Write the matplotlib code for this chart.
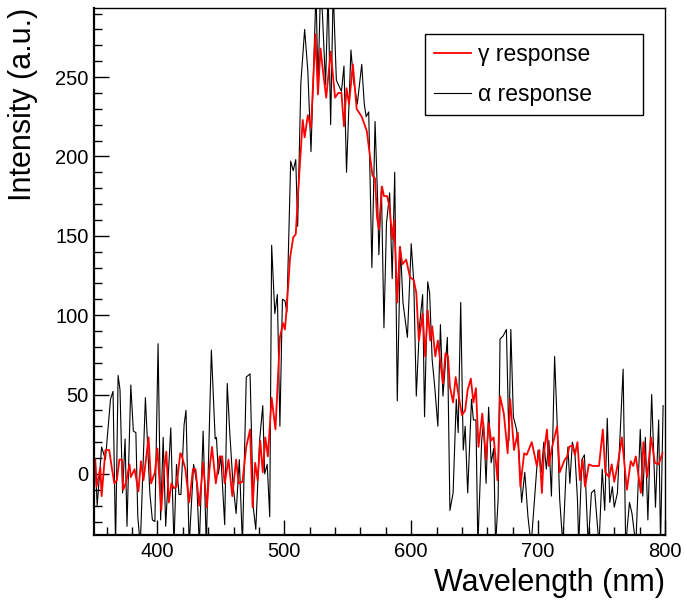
"""
plot.py  -  gamma vs alpha emission spectra (ROOT-style frame).
"""

import matplotlib
matplotlib.use("Agg")
import matplotlib.pyplot as plt
from matplotlib.ticker import MultipleLocator

plt.rcParams["font.family"] = ["Liberation Sans", "DejaVu Sans"]

# ── Data ──────────────────────────────────────────────────────────────────────
gamma_nm = [
    351, 352, 355, 356, 359, 362, 364, 366, 368, 370, 372, 373, 375, 378, 379,
    382, 385, 387, 389, 393, 395, 398, 400, 403, 405, 407, 409, 411, 413, 415,
    418, 419, 422, 425, 428, 430, 433, 436, 439, 441, 443, 446, 449, 451, 453,
    456, 459, 462, 464, 467, 470, 473, 475, 477, 479, 481, 483, 485, 487, 490,
    493, 496.5, 499, 500.5, 502, 504.5, 507, 509, 511, 514.5, 516, 518.5, 521,
    524.5, 526.5, 528.5, 531, 533, 536.5, 540, 542.5, 545, 547, 549, 551, 554,
    557, 561, 565, 567.5, 569.5, 571.5, 573, 574.5, 577, 578.5, 581, 583, 585,
    586.5, 589, 591, 593, 596, 599, 602, 604, 606, 609, 611, 613, 615, 616.5,
    619, 621, 623, 625, 627, 629, 630.5, 633, 635, 637, 640, 642.5, 644.5, 647,
    649, 651, 653, 656, 659, 661, 663, 665, 668, 670, 673, 676, 678, 681, 684,
    686, 689, 691, 695, 699, 701, 703, 704.5, 707, 708.5, 711, 715, 717, 721,
    723, 724.5, 727, 729, 731, 733, 735, 737, 740, 743, 748, 751, 753, 756, 758,
    760, 763, 766, 770, 773, 775, 777, 781, 783, 786, 789, 792, 795, 798,
]
gamma_val = [
    9, -8, 4, -14, 15, 15, 4, -6, -4, 9, 9, -10, -6, 6, -2,
    3, -11, 8, -4, 23, -6, 1, 16, -23, 1, 14, -18, -6, -9, -8,
    13, 12, 3, -18, 3, 3, -20, 7, -21, 3, 17, -6, 11, 11, -6,
    9, -14, 9, -6, -5, 17, 28, -21, 7, -4, 21, 1, 23, 11, 48,
    28, 86, 95, 91, 106, 136, 149, 151, 179, 223, 212, 226, 218,
    277, 239, 268, 250, 237, 266, 237, 240, 240, 219, 243, 233, 258,
    230, 225, 216, 200, 188, 186, 162, 154, 181, 175, 175, 168, 148,
    160, 108, 143, 132, 135, 124, 122, 114, 84, 101, 74, 103, 84, 93,
    74, 84, 70, 57, 76, 74, 55, 45, 61, 51, 37, 40, 53, 60,
    45, 54, 17, 38, 9, 32, 21, 23, -4, 49, 38, 13, 47, 15, 26,
    -8, 13, 12, 20, 5, 15, -12, 13, 28, 5, 17, 30, 1, 9,
    11, 17, 18, 12, 20, -4, 9, -8, 6, 5, 5, 28, 1, -2, 6,
    -5, 7, 23, -10, 8, 5, 11, -12, 20, -2, 23, 7, 6, 13,
]

alpha_nm = [
    351, 352.5, 356, 359, 363, 365, 367, 369, 370.5, 372.5, 374.5, 376, 379,
    381, 383, 384.5, 386.5, 390.5, 394, 396, 398, 400.5, 402.5, 404.5, 406.5,
    410.5, 413, 415, 417, 418.5, 421, 422.5, 425, 428.5, 431, 433, 436, 438.5,
    442.5, 445.5, 446.5, 448, 450, 453, 455, 457, 459.5, 462, 464.5, 467, 470,
    473, 475.5, 477.5, 480.5, 483, 484.5, 486.5, 488.5, 490, 492.5, 494.5,
    496.5, 498.5, 500.5, 502, 505, 507, 509, 510.5, 513, 516, 518.5, 521, 525,
    526.5, 528.5, 530, 532.5, 534.5, 536.5, 538.5, 541, 545, 547, 549, 552.5,
    554.5, 557.5, 561, 563, 564.5, 566.5, 569, 571.5, 573.5, 574.5, 576.5,
    578.5, 580.5, 583, 585, 587, 589, 591.5, 593.5, 597, 600, 602, 604, 606.5,
    609, 610.5, 613, 614.5, 616.5, 618.5, 621, 623, 625, 628.5, 630.5, 633,
    635.5, 637, 639, 641, 642.5, 644.5, 647.5, 649, 651, 652.5, 655.5, 657,
    659, 661, 663, 665, 666.5, 668.5, 670, 672.5, 675, 677, 678.5, 680.5, 683,
    685, 687, 689.5, 692, 694.5, 697, 700, 702.5, 704.5, 706.5, 708.5, 710.5,
    713, 715, 717, 719.5, 722, 723.5, 725, 727, 729, 731, 732, 734.5, 736.5,
    739.5, 742, 744.5, 748, 750.5, 752.5, 754.5, 756.5, 758.5, 760, 762.5, 767,
    769, 772, 774, 777, 780.5, 782.5, 784.5, 786.5, 789.5, 792.5, 795, 796.5,
    798.5,
]
alpha_val = [
    9, -20, 17, 9, 47, 52, -45, 62, 53, -12, 22, -33, 56,
    27, 26, -27, -45, 48, -12, -29, -30, 82, -29, 23, -33,
    29, -45, 6, -13, -13, 31, 40, -45, 6, -6, -45, 27, -45,
    78, 22, 23, 0, 11, -32, 57, 26, -6, -25, 9, -45, 61,
    63, -21, -35, 21, 43, 0, 6, -27, 144, 101, 113,
    30, 110, 109, 102, 197, 191, 198, 156, 246, 280, 254, 203, 305,
    243, 305, 290, 245, 305, 220, 305, 248, 241, 257, 190, 267,
    248, 233, 258, 233, 225, 228, 130, 222, 173, 138, 181,
    92, 158, 177, 123, 190, 46, 143, 108, 86, 145, 121, 49, 93,
    113, 36, 121, 114, 72, 55, 30, 94, 49, 86, -23, -12,
    47, 26, 108, 15, 30, -12, 47, 34, 34, -45, 21, 32,
    -6, 42, 7, 16, -45, -16, 85, 87, 91, 21, 91, 36, 28,
    13, -18, 1, -27, -45, -18, 15, 1, 20, 3, 21, -14,
    74, 32, -16, -45, 1, 17, -6, 20, 13, -16, -45, 9, 12,
    -45, -12, -10, -45, 3, -23, 35, -18, -8, -21, -12, 66,
    -45, -18, -25, -45, 28, -14, 23, -29, 50, -21, 34, -45,
    43,
]

# ── Figure ────────────────────────────────────────────────────────────────────
fig = plt.figure(figsize=(6.84, 6.06), dpi=100)
ax = fig.add_axes([94 / 684, 1 - 535 / 606, 571 / 684, 527 / 606])

ln_a, = ax.plot(alpha_nm, alpha_val, color="black", lw=0.8)
ln_g, = ax.plot(gamma_nm, gamma_val, color="#ff0000", lw=1.3)

ax.set_xlim(350, 800)
ax.set_ylim(-38.5, 293.5)

ax.xaxis.set_major_locator(MultipleLocator(100))
ax.xaxis.set_minor_locator(MultipleLocator(20))
ax.yaxis.set_major_locator(MultipleLocator(50))
ax.yaxis.set_minor_locator(MultipleLocator(10))
ax.tick_params(which="both", direction="in", top=False, right=False,
               width=1.0, labelsize=14.5)
ax.tick_params(which="major", length=11)
ax.tick_params(which="minor", length=5.5)
ax.tick_params(axis="y", pad=4)
ax.tick_params(axis="x", pad=5)

for side in ("left", "bottom"):
    ax.spines[side].set_linewidth(1.6)
for side in ("top", "right"):
    ax.spines[side].set_linewidth(1.0)

ax.set_ylabel("Intensity (a.u.)", fontsize=22, loc="top")
ax.yaxis.set_label_coords(-0.098, 1.0)
ax.set_xlabel("Wavelength (nm)", fontsize=22, loc="right")
ax.xaxis.set_label_coords(1.0, -0.062)

leg = ax.legend([ln_g, ln_a], ["γ response", "α response"],
                loc="upper left", bbox_to_anchor=(0.58, 0.951, 0.381, 0.0),
                mode="expand", fontsize=16.5, frameon=True, fancybox=False,
                handlelength=1.6, handletextpad=0.3, labelspacing=0.75,
                borderpad=0.4, borderaxespad=0.0)
leg.get_frame().set_edgecolor("black")
leg.get_frame().set_linewidth(1.0)
leg.get_frame().set_alpha(1.0)

fig.savefig("out.png", dpi=100)
